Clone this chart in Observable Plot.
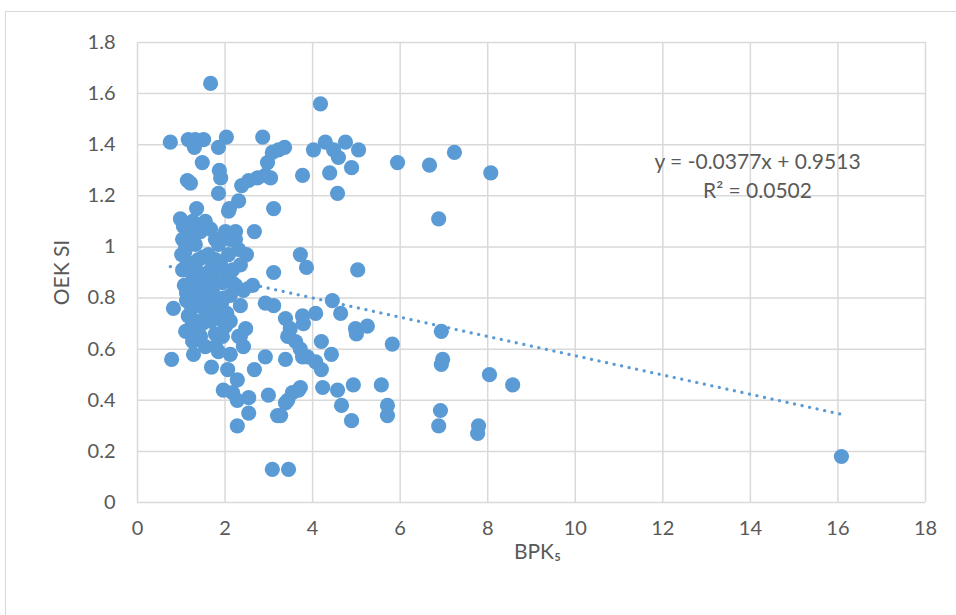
<!DOCTYPE html>
<html>
<head>
<meta charset="utf-8">
<script src="https://cdn.jsdelivr.net/npm/d3@7"></script>
<script src="https://cdn.jsdelivr.net/npm/@observablehq/plot@0.6"></script>
<style>
  html, body { margin: 0; padding: 0; background: #fff; }
  #wrap { position: relative; width: 956px; height: 615px; overflow: hidden; }
  #border { position: absolute; left: 5px; top: 11px; right: -2px; bottom: -2px; border: 1.5px solid #d9d9d9; pointer-events: none; }
  svg { display: block; }
</style>
</head>
<body>
<div id="wrap"><div id="border"></div></div>
<script>
const bpk5 = [
  0.75,1.16,1.32,1.51,1.30,2.03,1.85,2.86,1.48,1.87,1.90,1.14,1.21,1.85,1.35,2.10,2.31,3.11,2.38,2.54,
  2.74,2.92,3.04,2.97,3.08,3.22,3.36,3.77,0.98,1.67,4.18,4.02,4.29,4.48,4.59,4.75,5.05,4.39,4.89,4.57,
  5.94,6.67,7.24,6.88,8.07,3.72,3.86,5.03,4.45,4.64,3.38,3.77,4.07,3.79,3.49,4.98,5.25,5.00,5.82,6.94,
  6.97,6.94,3.43,3.61,3.72,3.88,4.07,4.20,4.20,4.43,3.38,3.72,3.54,3.38,3.27,4.23,4.57,4.66,4.93,5.57,
  5.71,5.71,4.89,6.92,6.88,7.77,7.79,3.45,8.04,8.57,16.08,0.78,1.28,1.69,2.67,2.92,1.85,2.12,2.42,2.35,
  2.06,2.28,1.96,2.17,2.28,2.54,2.54,2.28,2.99,3.20,3.43,3.68,3.08,3.77,2.08,2.67,2.24,3.11,2.63,2.49,
  0.82,2.92,3.11,2.47,2.31,1.21,1.78,
  1.05,1.03,1.01,1.03,1.07,1.12,1.16,1.10,1.21,1.32,1.44,1.55,1.67,1.78,1.39,1.26,1.44,1.67,1.90,2.01,
  1.78,1.55,1.32,1.44,1.67,1.90,2.12,2.08,1.85,2.12,2.35,2.24,2.35,2.01,1.78,1.55,1.32,1.14,1.62,1.71,
  1.94,2.17,2.31,2.42,1.26,1.10,1.21,1.32,1.55,1.78,2.12,1.94,1.26,1.44,2.01,2.24,
  1.08,1.18,1.28,1.40,1.50,1.60,1.72,1.84,1.96,2.06,1.12,1.24,1.36,1.48,1.58,1.68,1.80,1.92,2.04,2.16
];
const oekSi = [
  1.41,1.42,1.42,1.42,1.39,1.43,1.39,1.43,1.33,1.30,1.27,1.26,1.25,1.21,1.15,1.15,1.18,1.15,1.24,1.26,
  1.27,1.28,1.27,1.33,1.37,1.38,1.39,1.28,1.11,1.64,1.56,1.38,1.41,1.38,1.35,1.41,1.38,1.29,1.31,1.21,
  1.33,1.32,1.37,1.11,1.29,0.97,0.92,0.91,0.79,0.74,0.72,0.73,0.74,0.70,0.68,0.68,0.69,0.66,0.62,0.67,
  0.56,0.54,0.65,0.63,0.60,0.57,0.55,0.52,0.63,0.58,0.56,0.45,0.43,0.39,0.34,0.45,0.44,0.38,0.46,0.46,
  0.38,0.34,0.32,0.36,0.30,0.27,0.30,0.13,0.50,0.46,0.18,0.56,0.58,0.53,0.52,0.57,0.59,0.58,0.61,0.65,
  0.52,0.48,0.44,0.43,0.40,0.41,0.35,0.30,0.42,0.34,0.40,0.44,0.13,0.57,1.14,1.06,1.06,0.90,0.85,0.97,
  0.76,0.78,0.77,0.68,0.65,0.68,0.66,
  1.08,1.03,0.97,0.91,0.85,0.79,0.73,0.67,1.06,1.01,1.06,1.10,1.07,1.03,0.95,0.89,0.83,0.91,0.93,0.87,
  0.79,0.75,0.71,0.65,0.71,0.75,0.81,0.97,1.01,1.03,0.93,0.85,0.77,0.69,0.61,0.61,0.79,0.94,0.97,0.83,
  0.86,0.91,0.99,0.83,1.10,1.00,0.83,0.91,0.87,0.95,0.71,0.65,0.63,0.77,1.06,1.03,
  0.98,0.93,0.88,0.90,0.96,0.85,0.88,0.92,0.80,0.90,0.82,0.76,0.84,0.70,0.80,0.74,0.72,0.78,0.74,0.86
];
const xTicks = [0,2,4,6,8,10,12,14,16,18];
const yTicks = [0,0.2,0.4,0.6,0.8,1,1.2,1.4,1.6,1.8];
const trendSlope = -0.0377;
const trendIntercept = 0.9513;
const equationText = "y = -0.0377x + 0.9513";
const rSquaredText = "R² = 0.0502";
const xLabel = "BPK₅";
const yLabel = "OEK SI";

const points = bpk5.map((x, i) => ({x, y: oekSi[i]}));
const ext = d3.extent(bpk5);
const trend = ext.map(x => ({x, y: trendSlope * x + trendIntercept}));

const fontFam = "Lato, 'Open Sans', sans-serif";
const txt = "#595959";
const grid = "#d9d9d9";
const blue = "#5b9bd5";

const chart = Plot.plot({
  width: 956,
  height: 615,
  marginLeft: 137,
  marginRight: 31,
  marginTop: 42,
  marginBottom: 113,
  style: {fontFamily: fontFam, fontSize: "20px", color: txt, background: "transparent", overflow: "visible"},
  x: {domain: [0, 18]},
  y: {domain: [0, 1.8]},
  marks: [
    Plot.gridX(xTicks, {stroke: grid, strokeOpacity: 1, strokeWidth: 1.5}),
    Plot.gridY(yTicks, {stroke: grid, strokeOpacity: 1, strokeWidth: 1.5}),
    Plot.axisX(xTicks, {tickSize: 0, tickPadding: 18, fontSize: 20, fill: txt,
      tickFormat: d => String(d), label: null}),
    Plot.axisY(yTicks, {tickSize: 0, tickPadding: 22, fontSize: 20, fill: txt,
      tickFormat: d => String(+d.toFixed(1)), label: null}),
    Plot.line(trend, {x: "x", y: "y", stroke: blue, strokeWidth: 3.2, strokeDasharray: "0.1 7.6", strokeLinecap: "round"}),
    Plot.dot(points, {x: "x", y: "y", r: 7.6, fill: blue, stroke: "none"}),
    Plot.text([equationText], {text: d => d, frameAnchor: "top-right", dx: -168, dy: 112,
      fontSize: 21, fill: txt, textAnchor: "middle"}),
    Plot.text([rSquaredText], {text: d => d, frameAnchor: "top-right", dx: -168, dy: 141,
      fontSize: 21, fill: txt, textAnchor: "middle"}),
    Plot.text([xLabel], {text: d => d, frameAnchor: "bottom", dx: 6, dy: 56,
      fontSize: 21, fill: txt, textAnchor: "middle"}),
    Plot.text([yLabel], {text: d => d, frameAnchor: "left", dx: -75, rotate: -90,
      fontSize: 21, fill: txt, textAnchor: "middle"})
  ]
});
document.getElementById("wrap").prepend(chart);
</script>
</body>
</html>
